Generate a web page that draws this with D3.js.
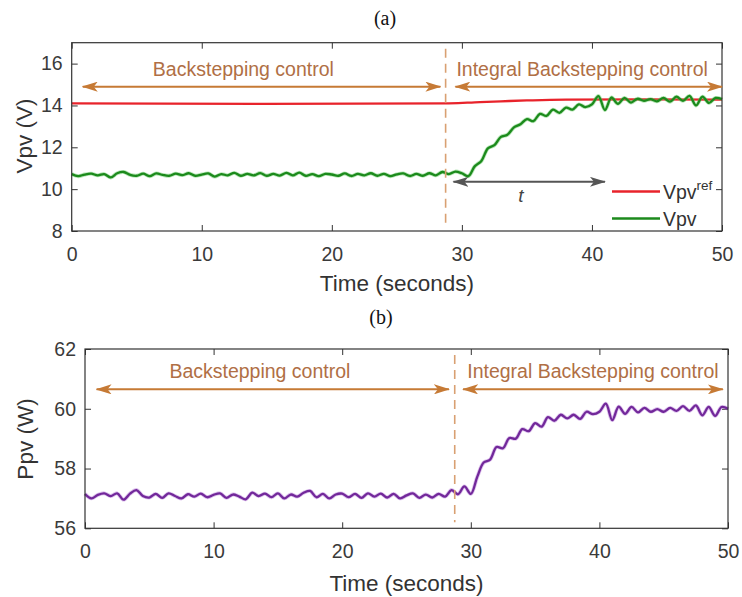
<!DOCTYPE html>
<html><head><meta charset="utf-8">
<script src="https://cdn.jsdelivr.net/npm/d3@7"></script>
<style>body{margin:0;background:#fff} svg{display:block}</style>
</head><body><svg id="c" width="742" height="597"></svg>
<script>
// ---- data ----
const time = [0,0.5,1,1.5,2,2.5,3,3.5,4,4.5,5,5.5,6,6.5,7,7.5,8,8.5,9,9.5,
  10,10.5,11,11.5,12,12.5,13,13.5,14,14.5,15,15.5,16,16.5,17,17.5,18,18.5,19,19.5,
  20,20.5,21,21.5,22,22.5,23,23.5,24,24.5,25,25.5,26,26.5,27,27.5,28,28.5,29,29.5,
  30,30.5,31,31.5,32,32.5,33,33.5,34,34.5,35,35.5,36,36.5,37,37.5,38,38.5,39,39.5,
  40,40.5,41,41.5,42,42.5,43,43.5,44,44.5,45,45.5,46,46.5,47,47.5,48,48.5,49,49.5,50];
const vpv = [10.72,10.62,10.70,10.74,10.66,10.72,10.56,10.76,10.82,10.68,
  10.64,10.74,10.62,10.75,10.68,10.64,10.74,10.67,10.76,10.64,
  10.70,10.75,10.60,10.72,10.66,10.78,10.64,10.73,10.66,10.77,
  10.64,10.73,10.65,10.78,10.66,10.79,10.64,10.72,10.62,10.73,
  10.70,10.64,10.75,10.63,10.73,10.66,10.76,10.64,10.73,10.62,
  10.71,10.75,10.63,10.73,10.64,10.76,10.66,10.82,10.72,10.84,
  10.76,10.62,11.10,11.35,11.95,12.10,12.50,12.60,12.95,13.10,
  13.35,13.25,13.60,13.50,13.80,13.65,13.90,13.80,14.05,13.92,
  14.05,14.45,13.78,14.38,14.08,14.36,14.14,14.32,14.22,14.30,
  14.20,14.36,14.18,14.42,14.22,14.46,14.00,14.42,14.12,14.36,14.30];
const vpvRefTime = [0, 29, 31, 33, 35, 38, 50];
const vpvRef = [14.1, 14.1, 14.15, 14.2, 14.24, 14.28, 14.28];
const ppv = [57.15,57.00,57.12,57.17,57.08,57.17,56.96,57.16,57.28,57.08,
  57.03,57.15,57.02,57.17,57.08,57.00,57.14,57.06,57.16,57.04,
  57.12,57.17,57.02,57.13,57.06,56.97,57.19,57.08,57.16,57.04,
  57.17,57.00,57.13,57.06,57.19,57.25,57.04,57.15,57.00,57.13,
  57.16,57.04,57.15,57.02,57.17,57.06,57.16,57.03,57.15,57.00,
  57.10,57.17,57.02,57.13,57.03,57.15,57.06,57.28,57.14,57.40,
  57.15,57.72,58.20,58.30,58.72,58.68,59.02,59.00,59.32,59.25,
  59.52,59.40,59.72,59.60,59.80,59.68,59.80,59.66,59.90,59.82,
  59.90,60.17,59.62,60.07,59.83,60.06,59.88,60.03,59.90,59.99,
  59.90,60.03,59.93,60.09,59.93,60.11,59.78,60.06,59.76,60.06,60.00];
const xTicks = [0, 10, 20, 30, 40, 50];
const vTicks = [8, 10, 12, 14, 16];
const pTicks = [56, 58, 60, 62];
const switchTime = 28.75;
const labelLeft = "Backstepping control";
const labelRight = "Integral Backstepping control";

// ---- drawing ----
const svg = d3.select("#c");
const FONT = "'Liberation Sans', Arial, sans-serif";
const AX = "#333";
const ORANGE = "#c67a35";
const TXT = "#b06f45";

const defs = svg.append("defs");
function marker(id, color) {
  defs.append("marker").attr("id", id)
    .attr("viewBox", "0 0 16 10").attr("refX", 15).attr("refY", 5)
    .attr("markerWidth", 16).attr("markerHeight", 10)
    .attr("markerUnits", "userSpaceOnUse")
    .attr("orient", "auto-start-reverse")
    .append("path").attr("d", "M0,0 L16,5 L0,10 L4,5 Z").attr("fill", color);
}
marker("ao", ORANGE);
marker("ag", "#555");

function panel(o) {
  const x = d3.scaleLinear().domain([0, 50]).range([o.left, o.right]);
  const y = d3.scaleLinear().domain(o.ydom).range([o.bottom, o.top]);
  const g = svg.append("g");

  const styleAxis = sel => {
    sel.select(".domain").remove();
    sel.selectAll("line").attr("stroke", AX).attr("stroke-width", 1);
    sel.selectAll("text").attr("fill", "#3a3a3a").style("font-family", FONT).style("font-size", "19.5px");
  };
  g.append("g").attr("transform", `translate(0,${o.bottom})`)
    .call(d3.axisBottom(x).tickValues(xTicks).tickSize(-6).tickPadding(16).tickFormat(d3.format("d"))).call(styleAxis);
  g.append("g").attr("transform", `translate(0,${o.top})`)
    .call(d3.axisTop(x).tickValues(xTicks).tickSize(-6).tickFormat("")).call(styleAxis);
  g.append("g").attr("transform", `translate(${o.left},0)`)
    .call(d3.axisLeft(y).tickValues(o.yticks).tickSize(-6).tickPadding(9).tickFormat(d3.format("d"))).call(styleAxis);
  g.append("g").attr("transform", `translate(${o.right},0)`)
    .call(d3.axisRight(y).tickValues(o.yticks).tickSize(-6).tickFormat("")).call(styleAxis);

  o.series.forEach(s => {
    const line = d3.line().x(d => x(d[0])).y(d => y(d[1])).curve(d3.curveCatmullRom.alpha(0.5));
    if (s.halo) g.append("path").datum(s.data).attr("fill", "none").attr("stroke", s.halo)
      .attr("stroke-width", s.w + 1.6).attr("stroke-linejoin", "round").attr("d", line);
    g.append("path").datum(s.data).attr("fill", "none").attr("stroke", s.color)
      .attr("stroke-width", s.w).attr("stroke-linejoin", "round").attr("d", line);
  });

  g.append("rect").attr("x", o.left).attr("y", o.top)
    .attr("width", o.right - o.left).attr("height", o.bottom - o.top)
    .attr("fill", "none").attr("stroke", AX).attr("stroke-width", 1.2);

  g.append("line").attr("x1", x(switchTime)).attr("x2", x(switchTime))
    .attr("y1", o.top + 6).attr("y2", o.bottom - 6)
    .attr("stroke", "#d9a072").attr("stroke-width", 1.6).attr("stroke-dasharray", "9,6");

  [[o.arrL, o.arrLend], [o.arrR, o.arrRend]].forEach(([a, b]) => {
    g.append("line").attr("x1", x(a)).attr("x2", x(b))
      .attr("y1", y(o.arrY)).attr("y2", y(o.arrY))
      .attr("stroke", ORANGE).attr("stroke-width", 2)
      .attr("marker-start", "url(#ao)").attr("marker-end", "url(#ao)");
  });
  g.append("text").attr("x", x(o.txtL)).attr("y", o.txtY).attr("text-anchor", "middle")
    .attr("fill", TXT).style("font-family", FONT).style("font-size", "19.5px").text(labelLeft);
  g.append("text").attr("x", x(o.txtR)).attr("y", o.txtY).attr("text-anchor", "middle")
    .attr("fill", TXT).style("font-family", FONT).style("font-size", "19.5px").text(labelRight);

  g.append("text").attr("x", (o.left + o.right) / 2).attr("y", o.xtitleY).attr("text-anchor", "middle")
    .attr("fill", "#333").style("font-family", FONT).style("font-size", "22.5px").text("Time (seconds)");
  g.append("text").attr("transform", `translate(${o.ytitleX},${o.ytitleY}) rotate(-90)`)
    .attr("text-anchor", "middle").attr("fill", "#333")
    .style("font-family", FONT).style("font-size", "22.5px").text(o.ytitle);
  g.append("text").attr("x", o.capX).attr("y", o.capY).attr("text-anchor", "middle")
    .attr("fill", "#111").style("font-family", "'Liberation Serif', 'Times New Roman', serif")
    .style("font-size", "20px").text(o.caption);
  return { x, y, g };
}

const panelA = panel({
  left: 71.7, right: 722, top: 42.7, bottom: 231, ydom: [8, 17], yticks: vTicks,
  series: [
    { data: vpvRefTime.map((t, i) => [t, vpvRef[i]]), color: "#e8232b", w: 2.3 },
    { data: time.map((t, i) => [t, vpv[i]]), color: "#1c8a1c", w: 2.3, halo: "rgba(90,200,90,0.45)" }
  ],
  arrY: 14.9, arrL: 0.85, arrLend: 28.35, arrR: 29.5, arrRend: 50,
  txtL: 13.2, txtR: 39.25, txtY: 76,
  xtitleY: 291, ytitle: "Vpv (V)", ytitleX: 32, ytitleY: 136,
  caption: "(a)", capX: 385, capY: 25
});

panelA.g.append("line").attr("x1", panelA.x(29.35)).attr("x2", panelA.x(41.0))
  .attr("y1", panelA.y(10.35)).attr("y2", panelA.y(10.35))
  .attr("stroke", "#555").attr("stroke-width", 2)
  .attr("marker-start", "url(#ag)").attr("marker-end", "url(#ag)");
panelA.g.append("text").attr("x", 521).attr("y", 202).attr("text-anchor", "middle")
  .attr("fill", "#444").style("font-family", FONT).style("font-style", "italic").style("font-size", "19px").text("t");

const legend = [
  { name: "Vpv", sup: "ref", color: "#e8232b", y: 191.5 },
  { name: "Vpv", sup: "", color: "#1c8a1c", y: 218.5 }
];
legend.forEach(l => {
  panelA.g.append("line").attr("x1", 612).attr("x2", 660).attr("y1", l.y).attr("y2", l.y)
    .attr("stroke", l.color).attr("stroke-width", 2.3);
  const t = panelA.g.append("text").attr("x", 663).attr("y", l.y + 7)
    .attr("fill", "#333").style("font-family", FONT).style("font-size", "19.5px").text(l.name);
  if (l.sup) t.append("tspan").attr("dy", -9).style("font-size", "13.5px").text(l.sup);
});

panel({
  left: 85, right: 728, top: 349, bottom: 528.3, ydom: [56, 62], yticks: pTicks,
  series: [
    { data: time.map((t, i) => [t, ppv[i]]), color: "#72289a", w: 2.3, halo: "rgba(170,100,210,0.4)" }
  ],
  arrY: 60.65, arrL: 0.9, arrLend: 28.3, arrR: 29.4, arrRend: 49.6,
  txtL: 13.6, txtR: 39.5, txtY: 377.5,
  xtitleY: 591, ytitle: "Ppv (W)", ytitleX: 33, ytitleY: 439,
  caption: "(b)", capX: 381, capY: 324
});
</script></body></html>
